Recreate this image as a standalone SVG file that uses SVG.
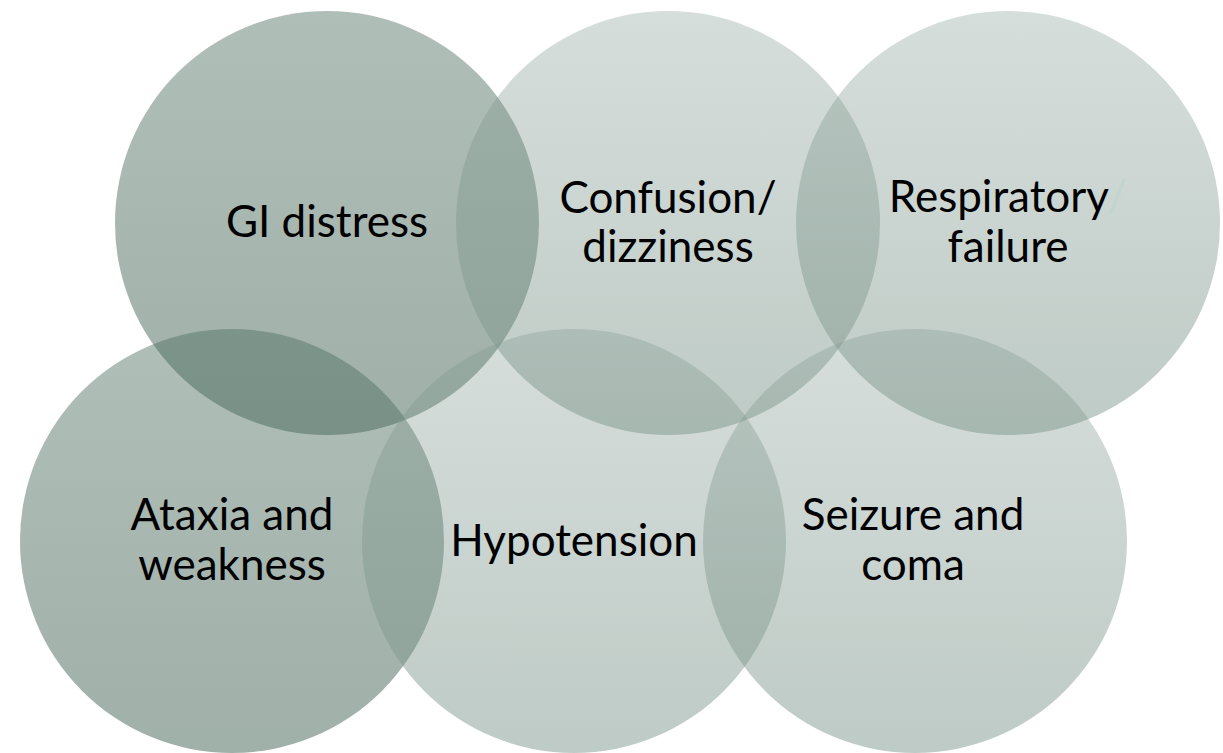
<svg xmlns="http://www.w3.org/2000/svg" width="1223" height="753" viewBox="0 0 1223 753">
  <defs>
    <!-- soft sage fill, lighter at the top, translucent so overlaps darken -->
    <linearGradient id="fillLight" x1="0" y1="0" x2="0" y2="1">
      <stop offset="0" stop-color="#7b948a" stop-opacity="0.31"/>
      <stop offset="1" stop-color="#7b948a" stop-opacity="0.49"/>
    </linearGradient>
    <linearGradient id="fillDark" x1="0" y1="0" x2="0" y2="1">
      <stop offset="0" stop-color="#4b6b5d" stop-opacity="0.44"/>
      <stop offset="1" stop-color="#4b6b5d" stop-opacity="0.53"/>
    </linearGradient>
    <style>
      .light { fill: url(#fillLight); }
      .dark { fill: url(#fillDark); }
      .label { font-family: Lato, "Open Sans", "Liberation Sans", sans-serif; font-weight: 400; font-size: 44px; fill: #000000; text-anchor: middle; }
      .faint { fill: #c3d4ce; }
    </style>
  </defs>

  <rect width="1223" height="753" fill="#ffffff"/>

  <g id="gi-distress">
    <circle class="dark" cx="327" cy="223" r="212"/>
    <text class="label" x="327" y="237">GI distress</text>
  </g>

  <g id="confusion-dizziness">
    <circle class="light" cx="668" cy="223" r="212"/>
    <text class="label" x="668" y="213">Confusion/</text>
    <text class="label" x="668" y="262">dizziness</text>
  </g>

  <g id="respiratory-failure">
    <circle class="light" cx="1008" cy="223" r="212"/>
    <text class="label" x="1008" y="212">Respiratory<tspan class="faint">/</tspan></text>
    <text class="label" x="1008" y="262">failure</text>
  </g>

  <g id="ataxia-weakness">
    <circle class="dark" cx="232" cy="541" r="212"/>
    <text class="label" x="232" y="530">Ataxia and</text>
    <text class="label" x="232" y="580">weakness</text>
  </g>

  <g id="hypotension">
    <circle class="light" cx="574" cy="541" r="212"/>
    <text class="label" x="574" y="556">Hypotension</text>
  </g>

  <g id="seizure-coma">
    <circle class="light" cx="915" cy="541" r="212"/>
    <text class="label" x="913" y="530">Seizure and</text>
    <text class="label" x="913" y="580">coma</text>
  </g>

  <g id="connectors"/>
</svg>
